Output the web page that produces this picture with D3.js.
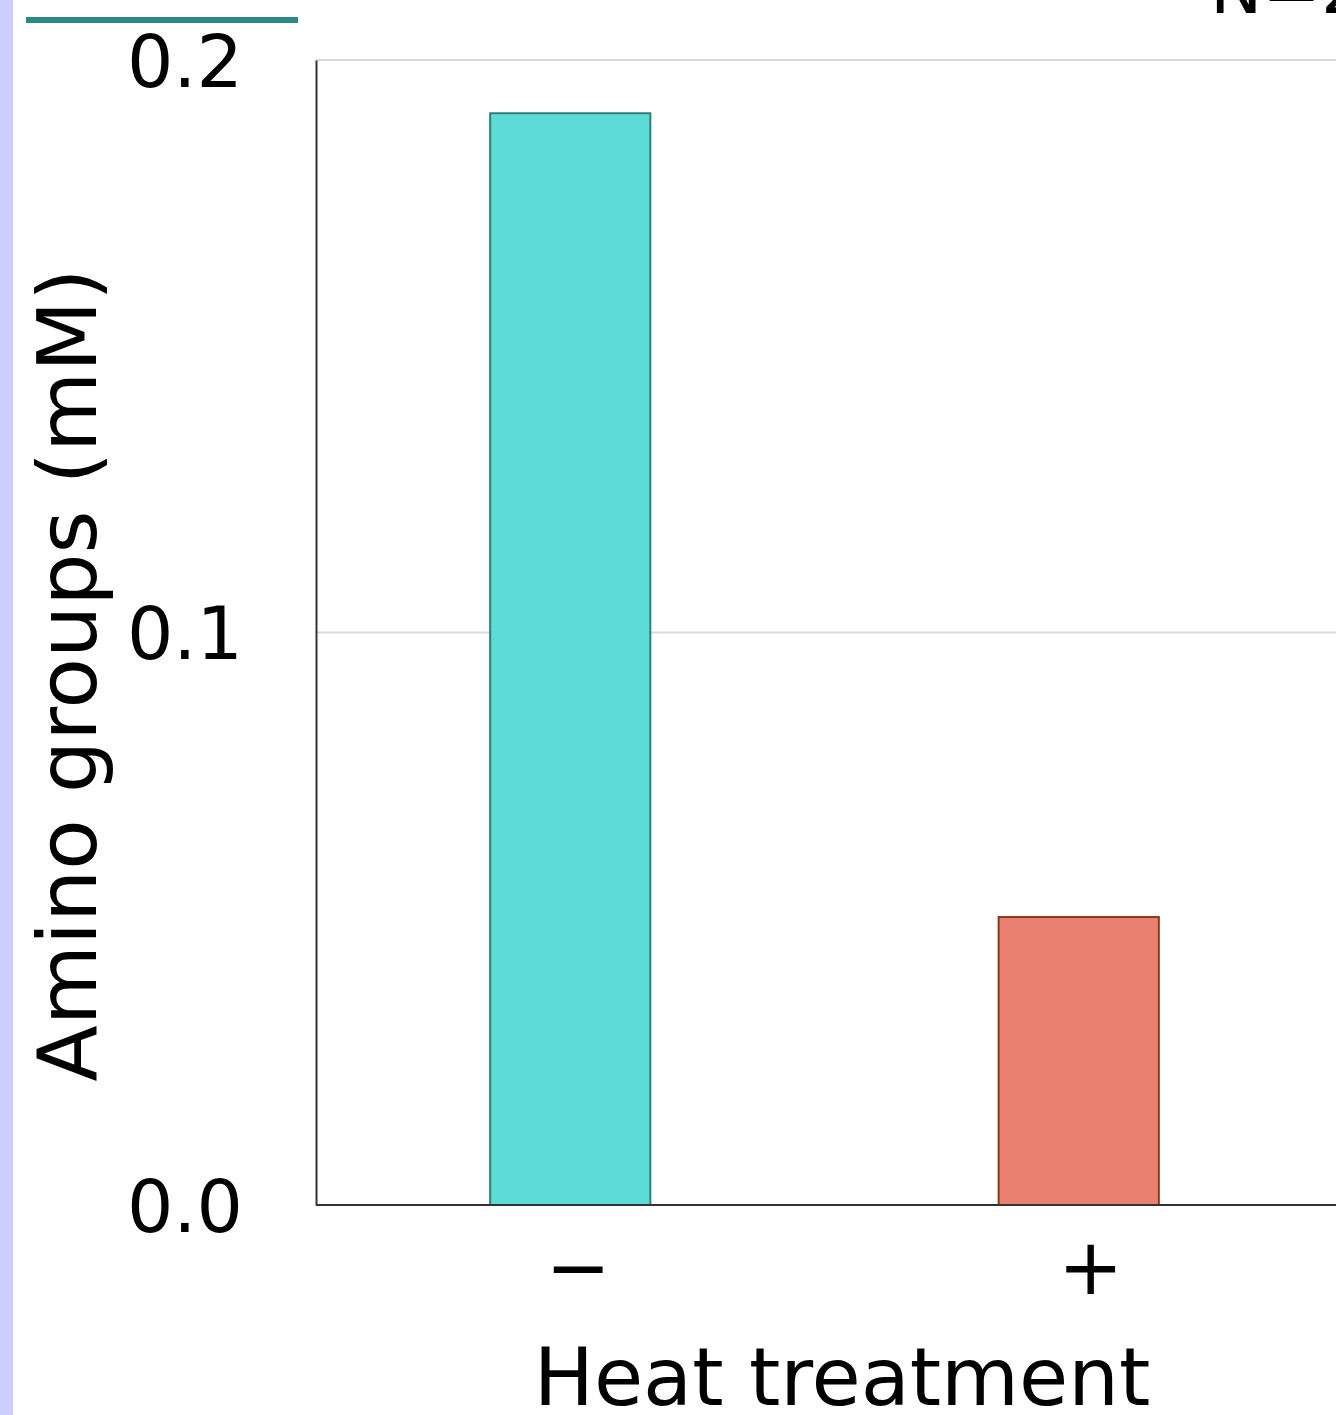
<!DOCTYPE html>
<html>
<head>
<meta charset="utf-8">
<script src="https://cdn.jsdelivr.net/npm/d3@7"></script>
<style>
  html, body { margin: 0; padding: 0; background: #fff; }
  svg { display: block; font-family: "DejaVu Sans", Verdana, sans-serif; }
</style>
</head>
<body>
<div id="chart"></div>
<script>
// data
const categories = ["\u2212", "+"];
const values = [0.1907, 0.0503];
const barColors = ["#5ddbd7", "#ea806f"];
const barStrokes = ["#2e7f7c", "#8a3a1a"];
const yTicks = [0, 0.1, 0.2];
const yLabel = "Amino groups (mM)";
const xLabel = "Heat treatment";
const cornerNote = "N=2";

const W = 1336, H = 1415;
const margin = { left: 316, right: 3, top: 60, bottom: 210 };

const svg = d3.select("#chart")
    .append("svg")
    .attr("width", W)
    .attr("height", H);

// lavender strip at the slide edge
svg.append("rect")
    .attr("x", 0).attr("y", 0)
    .attr("width", 13).attr("height", H)
    .attr("fill", "#ccccff");

// teal underline of the (cut off) heading
svg.append("rect")
    .attr("x", 26).attr("y", 17)
    .attr("width", 272).attr("height", 6)
    .attr("fill", "#2a8a85");

// note in the top right corner, mostly cut off
svg.append("text")
    .attr("x", 1210).attr("y", 13)
    .attr("font-size", 70)
    .attr("fill", "#000")
    .text(cornerNote);

const x = d3.scaleBand()
    .domain(categories)
    .range([margin.left, W - margin.right])
    .paddingInner(0.685)
    .paddingOuter(0.3425);

const y = d3.scaleLinear()
    .domain([0, 0.2])
    .range([H - margin.bottom, margin.top]);

// gridlines
svg.append("g")
    .selectAll("line")
    .data(yTicks.filter(d => d > 0))
    .join("line")
    .attr("x1", margin.left).attr("x2", W)
    .attr("y1", d => y(d)).attr("y2", d => y(d))
    .attr("stroke", "#d9d9d9")
    .attr("stroke-width", 2);

// bars
svg.append("g")
    .selectAll("rect")
    .data(values)
    .join("rect")
    .attr("x", (d, i) => x(categories[i]))
    .attr("y", d => y(d))
    .attr("width", x.bandwidth())
    .attr("height", d => y(0) - y(d))
    .attr("fill", (d, i) => barColors[i])
    .attr("stroke", (d, i) => barStrokes[i])
    .attr("stroke-width", 2);

// y axis
const yAxis = svg.append("g")
    .attr("transform", `translate(${margin.left},0)`)
    .call(d3.axisLeft(y).tickValues(yTicks).tickFormat(d3.format(".1f")).tickSize(0).tickPadding(73));
yAxis.select(".domain").attr("stroke", "#333").attr("stroke-width", 2);
yAxis.selectAll("text")
    .attr("font-size", 73)
    .attr("font-family", "DejaVu Sans, sans-serif")
    .attr("fill", "#000")
    .attr("dy", "0.36em");

// x axis
const xAxis = svg.append("g")
    .attr("transform", `translate(0,${y(0)})`)
    .call(d3.axisBottom(x).tickSize(0).tickPadding(34));
xAxis.select(".domain").attr("d", `M${margin.left},0H${W}`).attr("stroke", "#333").attr("stroke-width", 2);
xAxis.selectAll("text")
    .attr("font-size", 78)
    .attr("font-family", "DejaVu Sans, sans-serif")
    .attr("fill", "#000")
    .attr("dx", (d, i) => i === 0 ? 8 : 12);

// axis titles
svg.append("text")
    .attr("x", 842).attr("y", 1405)
    .attr("text-anchor", "middle")
    .attr("font-size", 80)
    .text(xLabel);

svg.append("text")
    .attr("transform", "translate(96,675) rotate(-90)")
    .attr("text-anchor", "middle")
    .attr("font-size", 82.5)
    .text(yLabel);
</script>
</body>
</html>
